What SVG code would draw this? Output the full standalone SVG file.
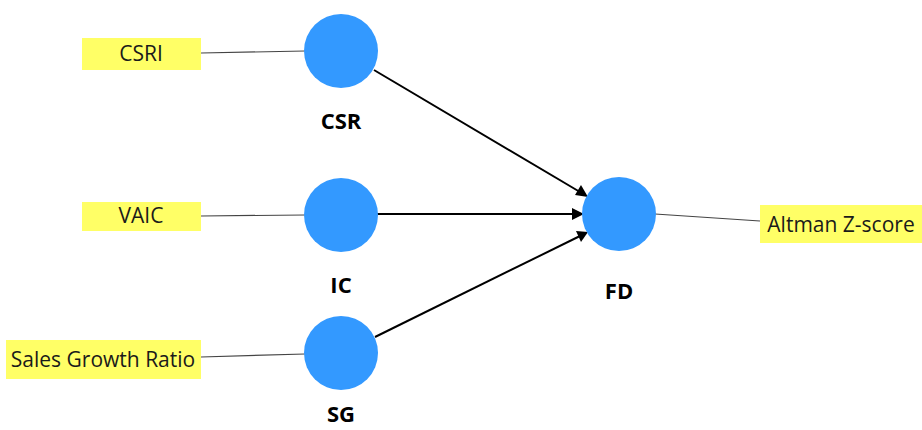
<svg xmlns="http://www.w3.org/2000/svg" width="922" height="430" viewBox="0 0 922 430">
<style>
.ind{fill:#ffff66}
.lv{fill:#3399ff}
.t{font-family:"Open Sans","Noto Sans",sans-serif;font-size:21px;fill:#1a1a1a;text-anchor:middle}
.b{font-family:"Open Sans","Noto Sans",sans-serif;font-size:22px;font-weight:bold;fill:#000;text-anchor:middle}
.thin{stroke:#444;stroke-width:1.2;fill:none}
.arr{stroke:#000;stroke-width:2;fill:none}
.head{fill:#000}
</style>
<rect width="922" height="430" fill="#fff"/>
<g id="connectors">
<line class="thin" x1="201" y1="53" x2="305" y2="51"/>
<line class="thin" x1="201" y1="216" x2="305" y2="215"/>
<line class="thin" x1="201" y1="357" x2="305" y2="354"/>
<line class="thin" x1="655" y1="214" x2="760" y2="221"/>
<line class="arr" x1="374" y1="70" x2="580" y2="192"/>
<path class="head" d="M588,197 L575,195 L581,185 z"/>
<line class="arr" x1="377" y1="214" x2="575" y2="214"/>
<path class="head" d="M584,214 L572,208 L572,220 z"/>
<line class="arr" x1="375" y1="337" x2="580" y2="236"/>
<path class="head" d="M588,232 L576,231 L581,242 z"/>
</g>
<g id="CSRI"><rect class="ind" x="82" y="38" width="119" height="32"/><text class="t" x="141" y="61">CSRI</text></g>
<g id="VAIC"><rect class="ind" x="82" y="202" width="119" height="29"/><text class="t" x="141" y="223">VAIC</text></g>
<g id="SGR"><rect class="ind" x="6" y="340" width="195" height="39"/><text class="t" x="103" y="367">Sales Growth Ratio</text></g>
<g id="Altman"><rect class="ind" x="760" y="205" width="162" height="38"/><text class="t" x="841" y="232">Altman Z-score</text></g>
<g id="CSR"><circle class="lv" cx="341" cy="51" r="37"/><text class="b" x="341" y="129">CSR</text></g>
<g id="IC"><circle class="lv" cx="341" cy="215" r="37"/><text class="b" x="341" y="293">IC</text></g>
<g id="SG"><circle class="lv" cx="341" cy="353" r="37"/><text class="b" x="341" y="422">SG</text></g>
<g id="FD"><circle class="lv" cx="619" cy="214" r="37"/><text class="b" x="619" y="299">FD</text></g>
</svg>
